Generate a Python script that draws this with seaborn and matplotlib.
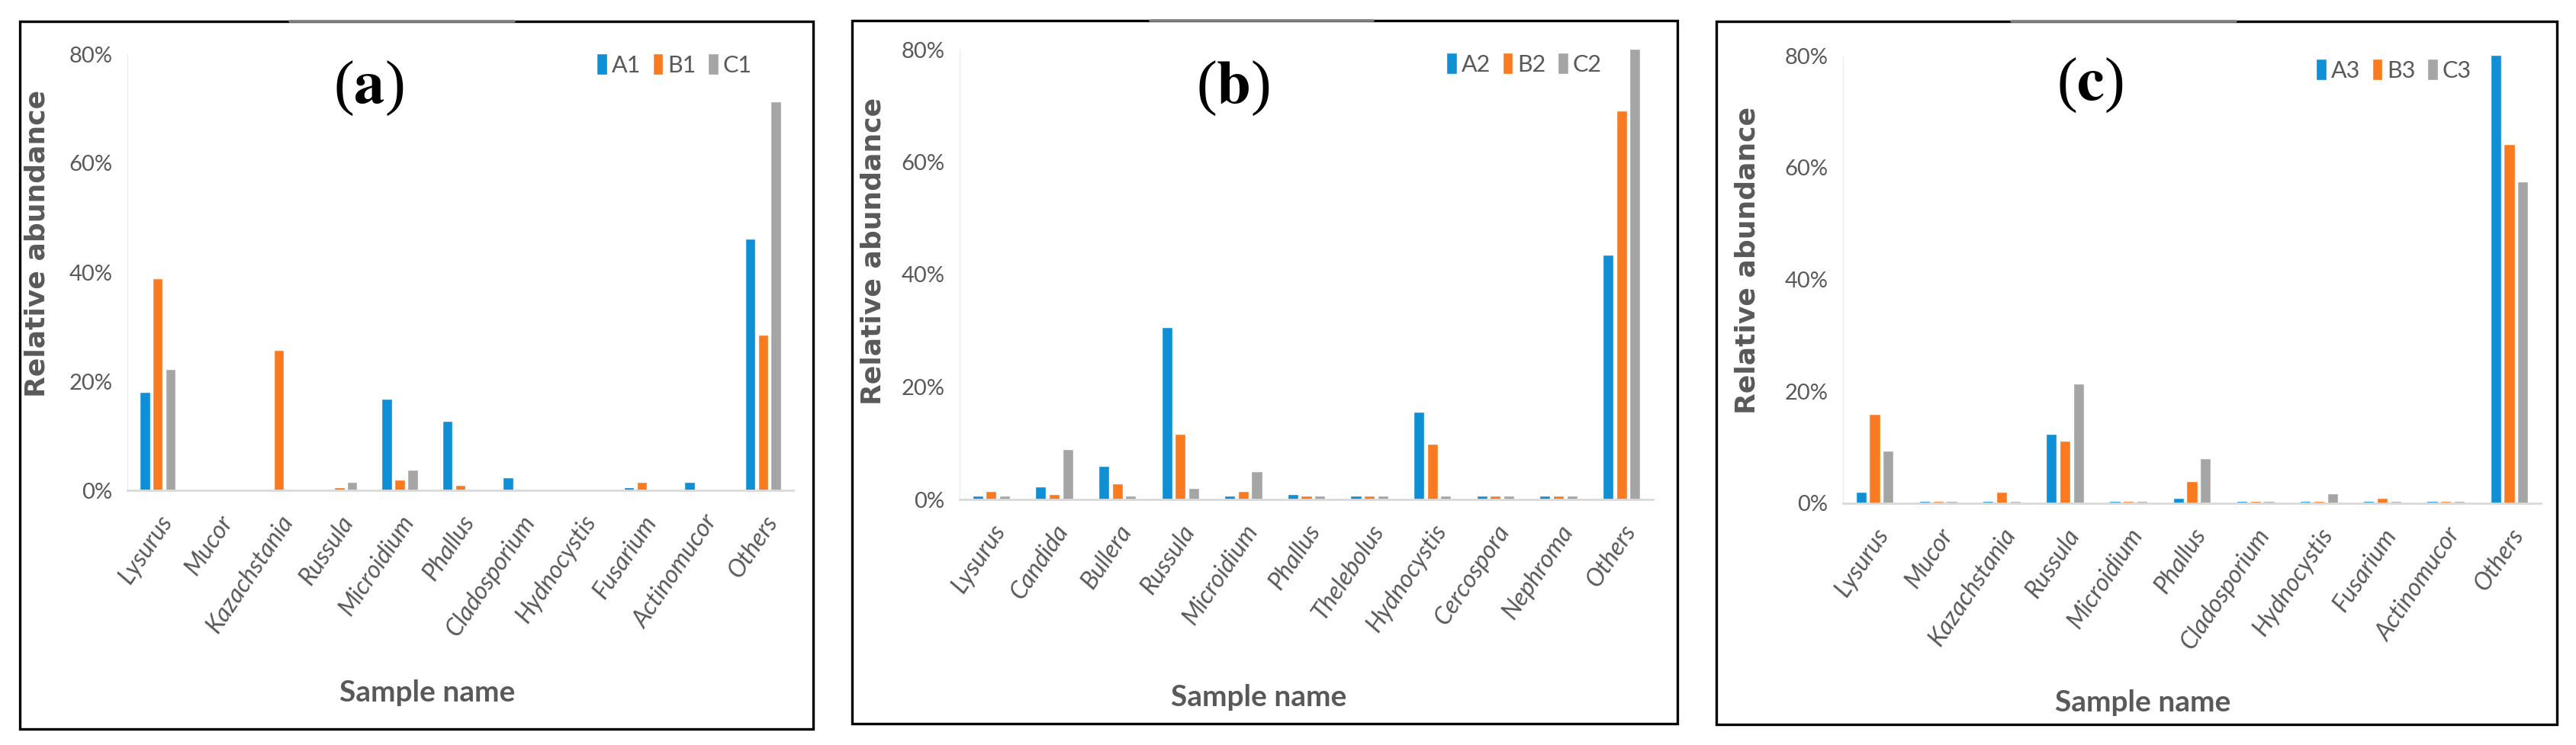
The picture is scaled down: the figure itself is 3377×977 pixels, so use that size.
import numpy as np, pandas as pd
import matplotlib
matplotlib.use("Agg")
import matplotlib.pyplot as plt
import seaborn as sns
from matplotlib.patches import Rectangle
from matplotlib.lines import Line2D
from matplotlib.ticker import FuncFormatter

# ---------- data (% relative abundance) ----------
genera_ac = ["Lysurus", "Mucor", "Kazachstania", "Russula", "Microidium", "Phallus",
             "Cladosporium", "Hydnocystis", "Fusarium", "Actinomucor", "Others"]
genera_b = ["Lysurus", "Candida", "Bullera", "Russula", "Microidium", "Phallus",
            "Thelebolus", "Hydnocystis", "Cercospora", "Nephroma", "Others"]

a1 = [18.1, 0, 0, 0, 16.8, 12.7, 2.4, 0, 0.6, 1.6, 46.1]
b1 = [38.9, 0, 25.8, 0.6, 1.9, 1.0, 0, 0, 1.6, 0, 28.6]
c1 = [22.3, 0, 0, 1.6, 3.8, 0, 0, 0, 0, 0, 71.3]

a2 = [0.7, 2.3, 5.9, 30.7, 0.7, 1.0, 0.7, 15.6, 0.7, 0.7, 43.5]
b2 = [1.5, 1.0, 2.8, 11.6, 1.5, 0.7, 0.7, 9.9, 0.7, 0.7, 69.1]
c2 = [0.7, 9.0, 0.7, 2.0, 5.0, 0.7, 0.7, 0.7, 0.7, 0.7, 80.2]

a3 = [2.1, 0.4, 0.4, 12.4, 0.4, 0.9, 0.4, 0.4, 0.4, 0.4, 80.2]
b3 = [16.0, 0.4, 2.1, 11.2, 0.4, 4.0, 0.4, 0.4, 0.9, 0.4, 64.2]
c3 = [9.4, 0.4, 0.4, 21.4, 0.4, 8.0, 0.4, 1.8, 0.4, 0.4, 57.5]

yticks = [0, 20, 40, 60, 80]
colors = ["#0E8FD6", "#FA7A22", "#A5A5A5"]

panels = [
    ("a", genera_ac, {"A1": a1, "B1": b1, "C1": c1}),
    ("b", genera_b, {"A2": a2, "B2": b2, "C2": c2}),
    ("c", genera_ac, {"A3": a3, "B3": b3, "C3": c3}),
]

# ---------- layout (pixels) ----------
W, H = 3377, 977
ax_px = [(167, 71, 1040, 643), (1258, 65, 2167, 655), (2416, 73, 3331, 660)]
frame_px = [(26, 28, 1066, 956), (1117, 27, 2199, 949), (2250, 28, 3352, 950)]
letter_px = [(483, 116), (1616, 116), (2740, 112)]
legend_px = [(884, 85), (1998, 84), (3138, 92)]
ylab_xy = [(-0.136, 0.566), (-0.125, 0.551), (-0.137, 0.543)]
xlab_xy = [(0.45, -0.465), (0.431, -0.44), (0.43, -0.446)]
greyseg_px = [(380, 674, 28), (1508, 1800, 27), (2637, 2931, 28)]

sns.set_theme(style="white")
plt.rcParams["font.family"] = ["Lato", "DejaVu Sans"]
plt.rcParams["mathtext.fontset"] = "stix"

fig = plt.figure(figsize=(W / 100, H / 100), dpi=100)
txt = "#595959"

for i, (letter, cats, series) in enumerate(panels):
    l, t, r, b = ax_px[i]
    ax = fig.add_axes([l / W, 1 - b / H, (r - l) / W, (b - t) / H])
    df = pd.DataFrame([(c, s, v) for s, vals in series.items() for c, v in zip(cats, vals)],
                      columns=["genus", "sample", "value"])
    sns.barplot(data=df, x="genus", y="value", hue="sample", palette=colors,
                order=cats, width=0.64, gap=0.2, saturation=1, ax=ax, legend=True)
    ax.set_ylim(0, 80)
    ax.set_xlim(-0.5, len(cats) - 0.5)
    ax.set_yticks(yticks)
    ax.yaxis.set_major_formatter(FuncFormatter(lambda v, p: f"{v:.0f}%"))
    ax.tick_params(axis="y", length=0, labelsize=21, labelcolor=txt, pad=14)
    ax.tick_params(axis="x", length=0, pad=20)
    for lab in ax.get_xticklabels():
        lab.set_rotation(56)
        lab.set_ha("right")
        lab.set_rotation_mode("anchor")
        lab.set_fontstyle("italic")
        lab.set_fontsize(23)
        lab.set_color(txt)
    for s in ["top", "right"]:
        ax.spines[s].set_visible(False)
    ax.spines["bottom"].set_color("#D9D9D9")
    ax.spines["bottom"].set_linewidth(2)
    ax.spines["left"].set_color("#EDEDED")
    ax.spines["left"].set_linewidth(1)

    ax.set_ylabel("Relative abundance", fontsize=26, fontweight="bold", color=txt,
                  family="DejaVu Sans")
    ax.yaxis.set_label_coords(*ylab_xy[i])
    ax.yaxis.label.set_va("center")
    ax.set_xlabel("Sample name", fontsize=28, fontweight="bold", color=txt)
    ax.xaxis.set_label_coords(*xlab_xy[i])
    ax.xaxis.label.set_va("center")

    h, labs = ax.get_legend_handles_labels()
    ax.get_legend().remove()
    lx, ly = legend_px[i]
    fig.legend(h, labs, loc="center", bbox_to_anchor=(lx / W, 1 - ly / H), ncol=3,
               frameon=False, fontsize=22, handlelength=0.45, handleheight=1.0,
               handletextpad=0.2, columnspacing=0.5, labelcolor=txt)

    px, py = letter_px[i]
    fig.text(px / W, 1 - py / H, r"($\mathbf{%s}$)" % letter, fontsize=58,
             ha="center", va="center", family="Liberation Serif", color="black")

    x0, y0, x1, y1 = frame_px[i]
    fig.patches.append(Rectangle((x0 / W, 1 - y1 / H), (x1 - x0) / W, (y1 - y0) / H,
                                 transform=fig.transFigure, fill=False,
                                 edgecolor="black", linewidth=2.4))
    g0, g1, gy = greyseg_px[i]
    fig.lines.append(Line2D([g0 / W, g1 / W], [1 - gy / H, 1 - gy / H],
                            transform=fig.transFigure, color="#808080", linewidth=2.6))

fig.savefig("out.png", dpi=100, facecolor="white")
